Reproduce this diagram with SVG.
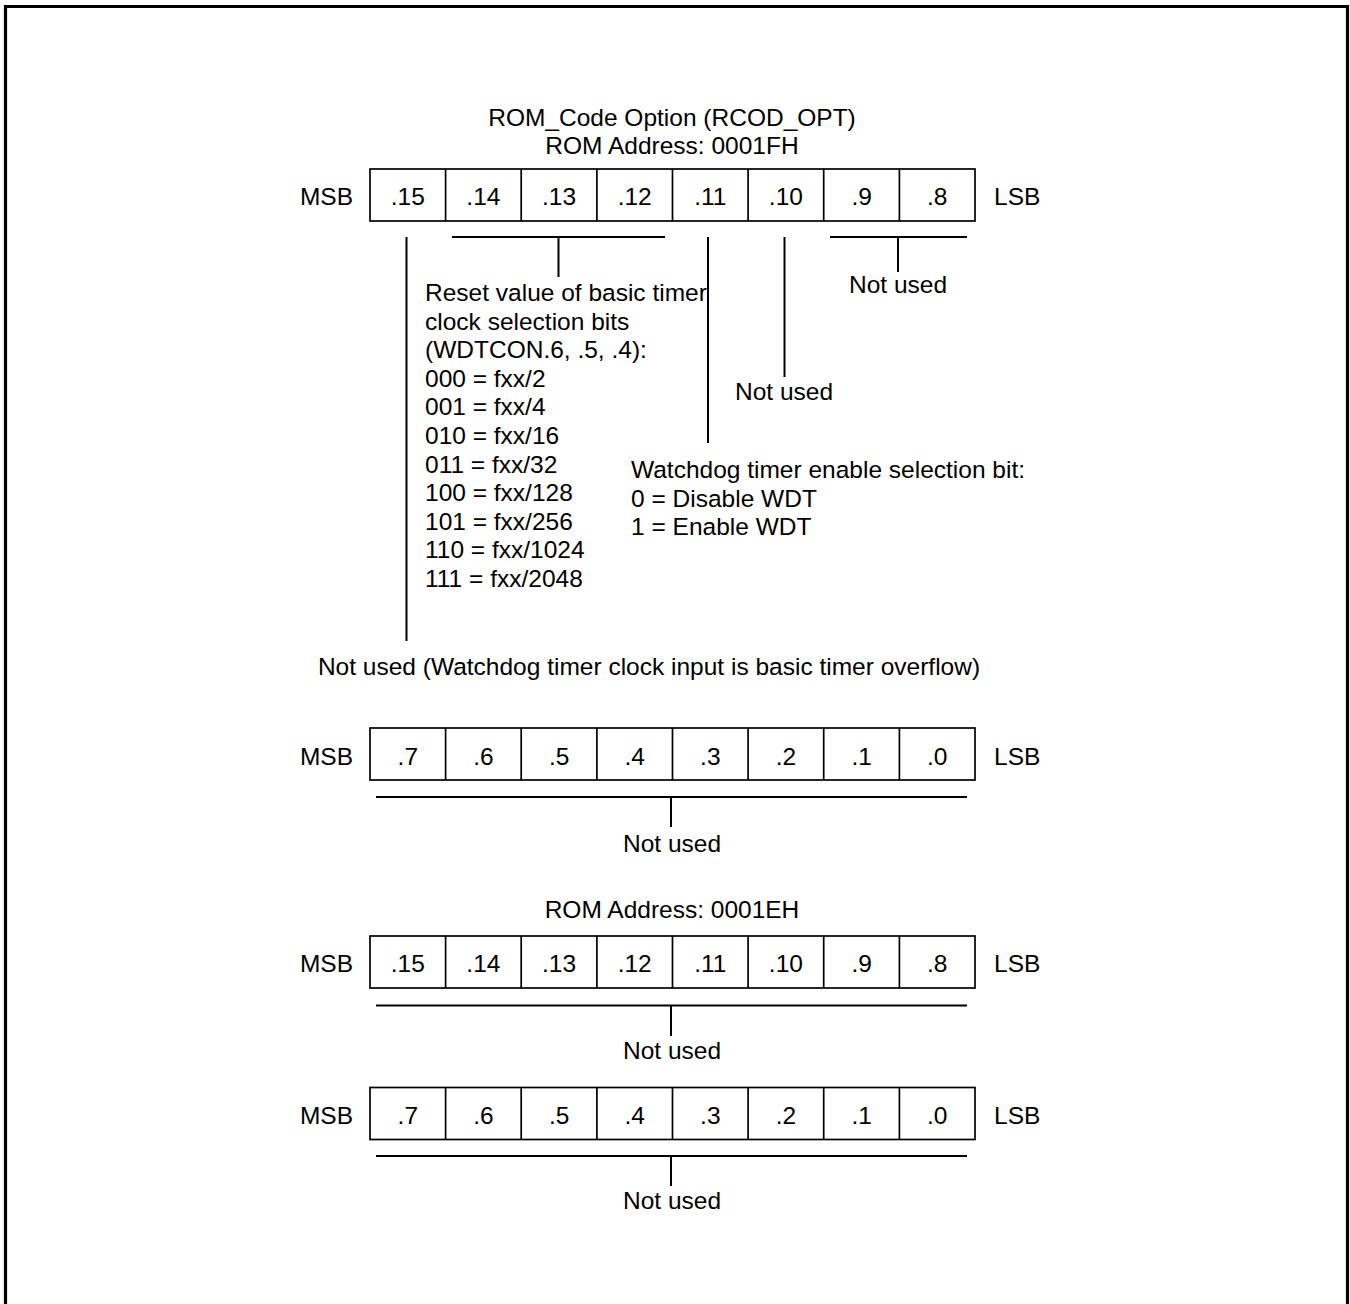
<svg xmlns="http://www.w3.org/2000/svg" width="1350" height="1304" viewBox="0 0 1350 1304">
<style>
text{font-family:"Liberation Sans",Arial,Helvetica,sans-serif;font-size:24.5px;fill:#000}
.c{text-anchor:middle}
.e{text-anchor:end}
.box{fill:#fff;stroke:#000;stroke-width:1.7}
.ln{stroke:#000;stroke-width:2;fill:none}
</style>
<defs>
<g id="cells">
<rect class="box" x="370" y="0" width="605" height="52"/>
<path class="ln" d="M445.6,0V52M521.2,0V52M596.9,0V52M672.5,0V52M748.1,0V52M823.7,0V52M899.4,0V52" style="stroke-width:1.7"/>
</g>
</defs>
<path d="M5.5,1310V6.5H1347.5V1310" fill="none" stroke="#000" stroke-width="3.2"/>

<g id="title">
<text class="c" x="672" y="126">ROM_Code Option (RCOD_OPT)</text>
<text class="c" x="672" y="154">ROM Address: 0001FH</text>
</g>

<g id="reg1">
<use href="#cells" y="169"/>
<text class="e" x="353" y="205">MSB</text>
<text class="c" x="407.8" y="205">.15</text>
<text class="c" x="483.4" y="205">.14</text>
<text class="c" x="559.1" y="205">.13</text>
<text class="c" x="634.7" y="205">.12</text>
<text class="c" x="710.3" y="205">.11</text>
<text class="c" x="785.9" y="205">.10</text>
<text class="c" x="861.6" y="205">.9</text>
<text class="c" x="937.2" y="205">.8</text>
<text x="994" y="205">LSB</text>
</g>

<g id="connectors">
<path class="ln" d="M406.5,237V641"/>
<path class="ln" d="M452,237H665M558.5,237V277"/>
<path class="ln" d="M708,237V443"/>
<path class="ln" d="M784.5,237V377"/>
<path class="ln" d="M830,237H967M898,237V272"/>
<path class="ln" d="M376,797H967M671,797V827"/>
<path class="ln" d="M376,1005.5H967M671,1005.5V1036"/>
<path class="ln" d="M376,1156H967M671,1156V1186"/>
</g>

<g id="reset-label">
<text x="425" y="301">Reset value of basic timer</text>
<text x="425" y="329.6">clock selection bits</text>
<text x="425" y="358.2">(WDTCON.6, .5, .4):</text>
<text x="425" y="386.8">000 = fxx/2</text>
<text x="425" y="415.4">001 = fxx/4</text>
<text x="425" y="444">010 = fxx/16</text>
<text x="425" y="472.6">011 = fxx/32</text>
<text x="425" y="501.2">100 = fxx/128</text>
<text x="425" y="529.8">101 = fxx/256</text>
<text x="425" y="558.4">110 = fxx/1024</text>
<text x="425" y="587">111 = fxx/2048</text>
</g>

<g id="notused-98">
<text class="c" x="898" y="293">Not used</text>
</g>
<g id="notused-10">
<text class="c" x="784" y="400">Not used</text>
</g>
<g id="wdt-label">
<text x="631" y="478">Watchdog timer enable selection bit:</text>
<text x="631" y="506.5">0 = Disable WDT</text>
<text x="631" y="535">1 = Enable WDT</text>
</g>
<g id="notused-15">
<text class="c" x="649" y="675">Not used (Watchdog timer clock input is basic timer overflow)</text>
</g>

<g id="reg2">
<use href="#cells" y="728"/>
<text class="e" x="353" y="765">MSB</text>
<text class="c" x="407.8" y="765">.7</text>
<text class="c" x="483.4" y="765">.6</text>
<text class="c" x="559.1" y="765">.5</text>
<text class="c" x="634.7" y="765">.4</text>
<text class="c" x="710.3" y="765">.3</text>
<text class="c" x="785.9" y="765">.2</text>
<text class="c" x="861.6" y="765">.1</text>
<text class="c" x="937.2" y="765">.0</text>
<text x="994" y="765">LSB</text>
</g>
<g id="notused-reg2">
<text class="c" x="672" y="852">Not used</text>
</g>

<g id="reg3">
<text class="c" x="672" y="918">ROM Address: 0001EH</text>
<use href="#cells" y="936"/>
<text class="e" x="353" y="972">MSB</text>
<text class="c" x="407.8" y="972">.15</text>
<text class="c" x="483.4" y="972">.14</text>
<text class="c" x="559.1" y="972">.13</text>
<text class="c" x="634.7" y="972">.12</text>
<text class="c" x="710.3" y="972">.11</text>
<text class="c" x="785.9" y="972">.10</text>
<text class="c" x="861.6" y="972">.9</text>
<text class="c" x="937.2" y="972">.8</text>
<text x="994" y="972">LSB</text>
</g>
<g id="notused-reg3">
<text class="c" x="672" y="1059">Not used</text>
</g>

<g id="reg4">
<use href="#cells" y="1087.5"/>
<text class="e" x="353" y="1124">MSB</text>
<text class="c" x="407.8" y="1124">.7</text>
<text class="c" x="483.4" y="1124">.6</text>
<text class="c" x="559.1" y="1124">.5</text>
<text class="c" x="634.7" y="1124">.4</text>
<text class="c" x="710.3" y="1124">.3</text>
<text class="c" x="785.9" y="1124">.2</text>
<text class="c" x="861.6" y="1124">.1</text>
<text class="c" x="937.2" y="1124">.0</text>
<text x="994" y="1124">LSB</text>
</g>
<g id="notused-reg4">
<text class="c" x="672" y="1209">Not used</text>
</g>
</svg>
